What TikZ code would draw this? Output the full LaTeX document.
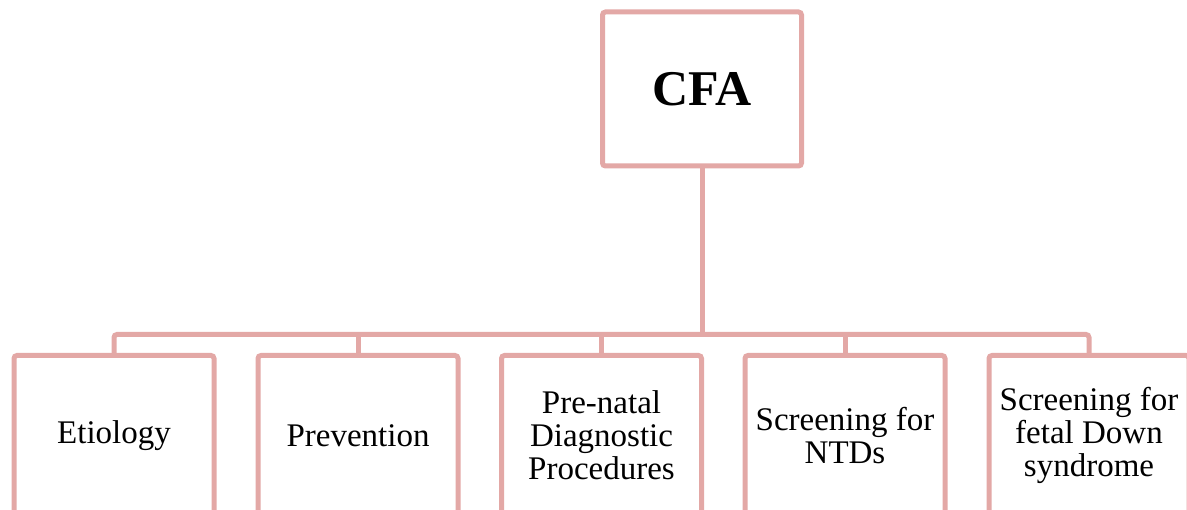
\documentclass[tikz,border=0pt]{standalone}
\usepackage{fontspec}
\setmainfont{Liberation Serif}
\definecolor{pk}{RGB}{227,168,166}
\begin{document}
\begin{tikzpicture}[x=1pt,y=-1pt,
  box/.style={draw=pk, line width=5pt, rounded corners=3pt, minimum width=200pt,
    minimum height=160pt, inner sep=0pt, align=center, fill=white,
    font=\fontsize{33}{33}\selectfont},
  conn/.style={draw=pk, line width=5pt, rounded corners=3pt}]
\useasboundingbox (0,0) rectangle (1187,510);
\node[box, minimum width=199pt, minimum height=154pt,
  font=\bfseries\fontsize{50}{50}\selectfont] (cfa) at (702,89) {CFA};
\node[box] (b1) at (114,435.5) {Etiology};
\node[box] (b2) at (358,435.5) {Prevention};
\node[box] (b3) at (601.5,435.5) {Pre-natal\\Diagnostic\\Procedures};
\node[box] (b4) at (845,435.5) {Screening for\\NTDs};
\node[box] (b5) at (1089,435.5) {Screening for\\fetal Down\\syndrome};
\coordinate (bar) at (702,334.5);
\draw[conn] (cfa.south) -- (cfa.south |- bar);
\draw[conn] (b1.north) |- (b5.north |- bar) -- (b5.north);
\draw[conn] (b2.north) -- (b2.north |- bar);
\draw[conn] (b3.north) -- (b3.north |- bar);
\draw[conn] (b4.north) -- (b4.north |- bar);
\end{tikzpicture}
\end{document}
